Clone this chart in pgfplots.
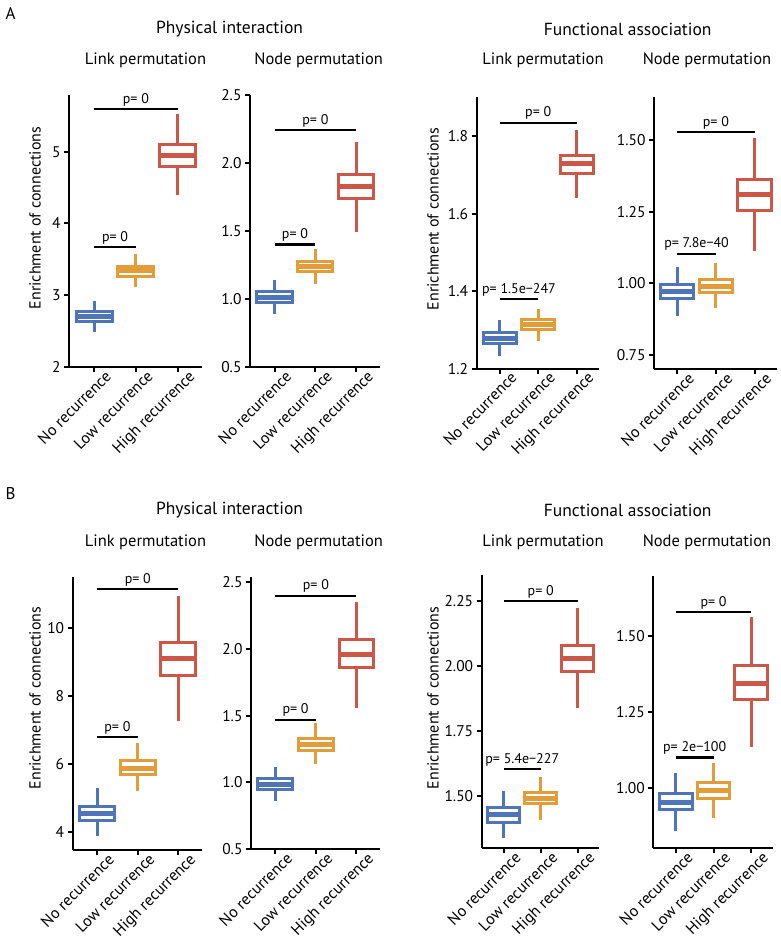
\documentclass[border=0pt]{standalone}
\usepackage{pgfplots}
\pgfplotsset{compat=1.18}
\usepgfplotslibrary{statistics}
\usepackage{fontspec}
\setmainfont{PT Sans}
\definecolor{cblue}{RGB}{80,116,184}
\definecolor{corange}{RGB}{226,156,58}
\definecolor{cred}{RGB}{204,86,72}
\newcommand{\gfont}{\fontsize{17.5}{20}\selectfont}
\newcommand{\tfont}{\fontsize{16.5}{19}\selectfont}
\newcommand{\yfont}{\fontsize{16}{18}\selectfont}
\newcommand{\lfont}{\fontsize{15.5}{17}\selectfont}
\newcommand{\xfont}{\fontsize{16}{17}\selectfont}
\newcommand{\pfont}{\fontsize{14}{16}\selectfont}
\pgfplotsset{
  panel/.style={
    scale only axis, anchor=south west, clip=false,
    axis x line*=bottom, axis y line*=left,
    axis line style={line width=2.3pt, black},
    tick style={line width=2pt, black},
    major tick length=5pt, tick align=outside,
    xmin=-0.6, xmax=2.58,
    xtick={0,1,2}, xticklabels={No recurrence,Low recurrence,High recurrence},
    x tick label style={rotate=45, anchor=north east, font=\xfont, inner sep=1pt, xshift=10pt, yshift=-4pt},
    y tick label style={font=\lfont},
    /pgf/number format/assume math mode=true,
  },
}
% color, pos, lw, lq, med, uq, uw
\newcommand{\bx}[7]{%
\addplot[draw=#1, fill=white, line width=3pt, solid,
  boxplot prepared={draw direction=y, draw position=#2, lower whisker=#3, lower quartile=#4,
  median=#5, upper quartile=#6, upper whisker=#7, box extend=0.86,
  whisker extend=0, every median/.style={line width=5pt}}] coordinates {};}
% x1, y, label
\newcommand{\br}[3]{%
\addplot[black, line width=2.2pt, forget plot] coordinates {(0,#2) (#1,#2)}
  node[pos=0.5, above, font=\pfont, inner sep=2pt] {#3};}
\begin{document}
\begin{tikzpicture}
\useasboundingbox (0,0) rectangle (780pt,940pt);
% ---- titles A
\node[anchor=west, font=\fontsize{17}{19}\selectfont] at (2pt,927pt) {A};
\node[font=\gfont] at (229.5pt,911pt) {Physical interaction};
\node[font=\gfont] at (627.7pt,911pt) {Functional association};
\node[font=\tfont] at (145.5pt,880pt) {Link permutation};
\node[font=\tfont] at (318.7pt,880pt) {Node permutation};
\node[font=\tfont] at (543pt,880pt) {Link permutation};
\node[font=\tfont] at (707pt,880pt) {Node permutation};
\node[font=\yfont, rotate=90] at (35pt,722pt) {Enrichment of connections};
\node[font=\yfont, rotate=90] at (433pt,721pt) {Enrichment of connections};
% ---- titles B
\node[anchor=west, font=\fontsize{17}{19}\selectfont] at (2pt,446pt) {B};
\node[font=\gfont] at (229.5pt,430pt) {Physical interaction};
\node[font=\gfont] at (627.7pt,430pt) {Functional association};
\node[font=\tfont] at (145.5pt,398pt) {Link permutation};
\node[font=\tfont] at (318.7pt,398pt) {Node permutation};
\node[font=\tfont] at (543pt,398pt) {Link permutation};
\node[font=\tfont] at (707pt,398pt) {Node permutation};
\node[font=\yfont, rotate=90] at (35pt,242pt) {Enrichment of connections};
\node[font=\yfont, rotate=90] at (433pt,242pt) {Enrichment of connections};

% ===== A1
\begin{axis}[panel, at={(69pt,573pt)}, width=133pt, height=272pt,
  ymin=2, ymax=5.79, ytick={2,3,4,5}]
\bx{cblue}{0}{2.49}{2.64}{2.70}{2.78}{2.92}
\bx{corange}{1}{3.11}{3.26}{3.35}{3.40}{3.57}
\bx{cred}{2}{4.39}{4.79}{4.95}{5.10}{5.52}
\br{1}{3.67}{p= 0}
\br{2}{5.59}{p= 0}
\end{axis}
% ===== A2
\begin{axis}[panel, at={(250pt,573pt)}, width=130pt, height=272pt,
  ymin=0.5, ymax=2.5, ytick={0.5,1,1.5,2,2.5},
  yticklabel style={/pgf/number format/.cd, fixed, fixed zerofill, precision=1}]
\bx{cblue}{0}{0.886}{0.971}{1.01}{1.052}{1.138}
\bx{corange}{1}{1.109}{1.20}{1.24}{1.278}{1.367}
\bx{cred}{2}{1.49}{1.74}{1.825}{1.917}{2.152}
\br{1}{1.40}{p= 0}
\br{2}{2.24}{p= 0}
\end{axis}
% ===== A3
\begin{axis}[panel, at={(476.7pt,571.3pt)}, width=122.3pt, height=271.4pt,
  ymin=1.2, ymax=1.9, ytick={1.2,1.4,1.6,1.8},
  yticklabel style={/pgf/number format/.cd, fixed, fixed zerofill, precision=1}]
\bx{cblue}{0}{1.234}{1.265}{1.279}{1.294}{1.325}
\bx{corange}{1}{1.272}{1.301}{1.313}{1.327}{1.355}
\bx{cred}{2}{1.641}{1.704}{1.729}{1.751}{1.815}
\br{1}{1.379}{p= 1.5e−247}
\br{2}{1.834}{p= 0}
\end{axis}
% ===== A4
\begin{axis}[panel, at={(654pt,570.7pt)}, width=123pt, height=272pt,
  ymin=0.70, ymax=1.65, ytick={0.75,1,1.25,1.5},
  yticklabel style={/pgf/number format/.cd, fixed, fixed zerofill, precision=2}]
\bx{cblue}{0}{0.885}{0.948}{0.972}{0.997}{1.059}
\bx{corange}{1}{0.915}{0.969}{0.99}{1.015}{1.073}
\bx{cred}{2}{1.113}{1.256}{1.31}{1.362}{1.507}
\br{1}{1.104}{p= 7.8e−40}
\br{2}{1.528}{p= 0}
\end{axis}
% ===== B1
\begin{axis}[panel, at={(72.7pt,90pt)}, width=129.3pt, height=272.7pt,
  ymin=3.48, ymax=11.48, ytick={4,6,8,10}]
\bx{cblue}{0}{3.90}{4.34}{4.54}{4.75}{5.29}
\bx{corange}{1}{5.21}{5.70}{5.88}{6.10}{6.63}
\bx{cred}{2}{7.25}{8.61}{9.10}{9.56}{10.94}
\br{1}{6.79}{p= 0}
\br{2}{11.13}{p= 0}
\end{axis}
% ===== B2
\begin{axis}[panel, at={(251pt,91pt)}, width=129pt, height=272pt,
  ymin=0.5, ymax=2.54, ytick={0.5,1,1.5,2,2.5},
  yticklabel style={/pgf/number format/.cd, fixed, fixed zerofill, precision=1}]
\bx{cblue}{0}{0.857}{0.945}{0.985}{1.026}{1.116}
\bx{corange}{1}{1.14}{1.238}{1.283}{1.326}{1.443}
\bx{cred}{2}{1.56}{1.86}{1.96}{2.07}{2.35}
\br{1}{1.47}{p= 0}
\br{2}{2.40}{p= 0}
\end{axis}
% ===== B3
\begin{axis}[panel, at={(481.7pt,91.7pt)}, width=117.3pt, height=273.3pt,
  ymin=1.30, ymax=2.35, ytick={1.5,1.75,2,2.25},
  yticklabel style={/pgf/number format/.cd, fixed, fixed zerofill, precision=2}]
\bx{cblue}{0}{1.341}{1.401}{1.43}{1.455}{1.519}
\bx{corange}{1}{1.41}{1.472}{1.493}{1.514}{1.574}
\bx{cred}{2}{1.84}{1.978}{2.03}{2.078}{2.224}
\br{1}{1.605}{p= 5.4e−227}
\br{2}{2.25}{p= 0}
\end{axis}
% ===== B4
\begin{axis}[panel, at={(653.3pt,91.7pt)}, width=119.7pt, height=272.6pt,
  ymin=0.80, ymax=1.70, ytick={1,1.25,1.5},
  yticklabel style={/pgf/number format/.cd, fixed, fixed zerofill, precision=2}]
\bx{cblue}{0}{0.856}{0.927}{0.952}{0.98}{1.049}
\bx{corange}{1}{0.901}{0.966}{0.991}{1.016}{1.082}
\bx{cred}{2}{1.136}{1.291}{1.343}{1.403}{1.563}
\br{1}{1.10}{p= 2e−100}
\br{2}{1.58}{p= 0}
\end{axis}
\end{tikzpicture}
\end{document}
